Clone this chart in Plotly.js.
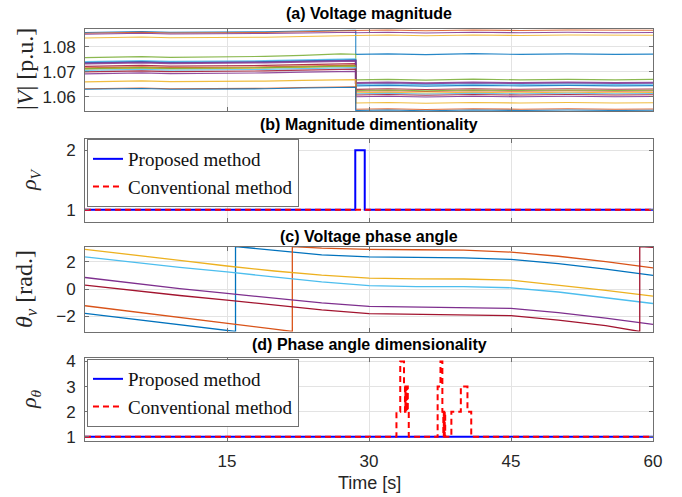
<!DOCTYPE html>
<html>
<head>
<meta charset="utf-8">
<script src="https://cdn.plot.ly/plotly-3.0.1.min.js"></script>
<style>html,body{margin:0;padding:0;background:#fff;}#chart{width:682px;height:497px;}</style>
</head>
<body>
<div id="chart"></div>
<script>
// ---------- DATA ----------
// (a) Voltage magnitude [p.u.]
const tA = [0, 3, 6, 9, 14, 19, 23, 27, 28.6, 28.6, 32, 36, 41, 46, 51, 56, 60];
const v01 = [1.0858,1.0860,1.0862,1.0859,1.0859,1.0861,1.0864,1.0868,1.0867, 1.0770,1.0772,1.0769,1.0773,1.0770,1.0772,1.0770,1.0771];
const v02 = [1.0855,1.0857,1.0859,1.0856,1.0856,1.0858,1.0861,1.0866,1.0866, 1.0866,1.0868,1.0865,1.0868,1.0866,1.0868,1.0866,1.0867];
const v03 = [1.0836,1.0837,1.0840,1.0837,1.0837,1.0839,1.0842,1.0847,1.0846, 1.0846,1.0848,1.0845,1.0848,1.0846,1.0848,1.0846,1.0847];
const v04 = [1.0851,1.0852,1.0855,1.0852,1.0852,1.0854,1.0856,1.0860,1.0859, 1.0857,1.0859,1.0856,1.0859,1.0857,1.0859,1.0857,1.0858];
const v05 = [1.0757,1.0758,1.0761,1.0758,1.0759,1.0762,1.0766,1.0772,1.0771, 1.0668,1.0670,1.0667,1.0671,1.0668,1.0670,1.0668,1.0670];
const v06 = [1.0741,1.0742,1.0745,1.0742,1.0742,1.0745,1.0748,1.0753,1.0752, 1.0650,1.0652,1.0649,1.0652,1.0650,1.0652,1.0650,1.0651];
const v07 = [1.0722,1.0723,1.0726,1.0723,1.0723,1.0726,1.0729,1.0734,1.0733, 1.0630,1.0632,1.0629,1.0632,1.0630,1.0632,1.0630,1.0631];
const v08 = [1.0737,1.0738,1.0741,1.0738,1.0738,1.0741,1.0744,1.0749,1.0748, 1.0644,1.0646,1.0643,1.0646,1.0644,1.0646,1.0644,1.0645];
const v09 = [1.0716,1.0717,1.0720,1.0717,1.0717,1.0720,1.0723,1.0728,1.0727, 1.0622,1.0624,1.0621,1.0624,1.0622,1.0624,1.0622,1.0623];
const v10 = [1.0711,1.0712,1.0715,1.0712,1.0712,1.0715,1.0718,1.0723,1.0722, 1.0616,1.0618,1.0615,1.0618,1.0616,1.0618,1.0616,1.0617];
const v11 = [1.0734,1.0735,1.0738,1.0735,1.0735,1.0738,1.0741,1.0746,1.0745, 1.0655,1.0657,1.0654,1.0657,1.0655,1.0657,1.0655,1.0656];
const v12 = [1.0713,1.0714,1.0717,1.0714,1.0714,1.0717,1.0720,1.0725,1.0724, 1.0625,1.0627,1.0624,1.0627,1.0625,1.0627,1.0625,1.0626];
const v13 = [1.0706,1.0707,1.0710,1.0707,1.0707,1.0710,1.0713,1.0718,1.0717, 1.0612,1.0614,1.0611,1.0614,1.0612,1.0614,1.0612,1.0613];
const v14 = [1.0700,1.0701,1.0704,1.0701,1.0701,1.0704,1.0707,1.0712,1.0711, 1.0607,1.0609,1.0606,1.0609,1.0607,1.0609,1.0607,1.0608];
const v15 = [1.0692,1.0693,1.0696,1.0693,1.0693,1.0696,1.0699,1.0703,1.0702, 1.0600,1.0602,1.0599,1.0602,1.0600,1.0602,1.0600,1.0601];
const v16 = [1.0660,1.0661,1.0664,1.0661,1.0661,1.0663,1.0666,1.0670,1.0669, 1.0575,1.0577,1.0574,1.0577,1.0575,1.0577,1.0575,1.0576];
const v17 = [1.0632,1.0633,1.0635,1.0632,1.0632,1.0634,1.0637,1.0641,1.0640, 1.0550,1.0552,1.0549,1.0552,1.0550,1.0552,1.0550,1.0551];
const v18 = [1.0630,1.0631,1.0633,1.0630,1.0630,1.0632,1.0635,1.0639,1.0638, 1.0545,1.0547,1.0544,1.0547,1.0545,1.0547,1.0545,1.0546];

// (b) Magnitude dimensionality
const tPropV = [0, 28.55, 29.55, 60];
const rhoPropV = [1, 2, 1, 1];
const tConvV = [0, 60];
const rhoConvV = [1, 1];

// (c) Voltage phase angle [rad.]
const tBlue = [0, 5, 10, 15, 15.9, 15.9, 20, 25, 30, 35, 40, 45, 50, 55, 60];
const thBlue = [-1.80, -2.22, -2.64, -3.06, -3.14, 3.14, 2.85, 2.52, 2.37, 2.32, 2.30, 2.19, 1.88, 1.47, 1.01];
const tOrange = [0, 5, 10, 15, 20, 21.9, 21.9, 25, 30, 35, 40, 45, 50, 55, 60];
const thOrange = [-1.24, -1.66, -2.10, -2.53, -2.96, -3.14, 3.14, 3.02, 2.93, 2.90, 2.88, 2.73, 2.42, 2.02, 1.56];
const tC = [0, 5, 10, 15, 20, 25, 30, 35, 40, 45, 50, 55, 60];
const thYellow = [2.93, 2.55, 2.12, 1.70, 1.33, 1.02, 0.80, 0.75, 0.74, 0.65, 0.30, -0.10, -0.53];
const thCyan = [2.37, 1.98, 1.60, 1.26, 0.88, 0.52, 0.25, 0.18, 0.18, 0.09, -0.22, -0.62, -1.07];
const thPurple = [0.85, 0.42, 0.03, -0.33, -0.70, -1.02, -1.28, -1.33, -1.33, -1.43, -1.75, -2.15, -2.61];
const tCrimson = [0, 5, 10, 15, 20, 25, 30, 35, 40, 45, 50, 55, 58.6, 58.6, 60];
const thCrimson = [0.28, -0.12, -0.48, -0.82, -1.20, -1.55, -1.82, -1.87, -1.88, -1.97, -2.30, -2.70, -3.14, 3.14, 3.08];

// (d) Phase angle dimensionality
const tPropT = [0, 60];
const rhoPropT = [1, 1];
const tConvT = [0, 32.9, 33.3, 33.7, 33.8, 33.85, 33.9, 33.95, 34.0, 34.05, 34.1, 34.2, 37.25, 37.55, 37.75, 37.85, 37.9, 37.95, 38.0, 38.05, 38.1, 38.7, 39.7, 40.4, 40.8, 60];
const rhoConvT = [1, 2, 4, 3, 2, 3, 2, 3, 2, 3, 2, 1, 3, 4, 2, 1, 2, 1, 2, 1, 1, 2, 3, 2, 1, 1];

// ---------- STYLE ----------
const C = ['#0072BD','#D95319','#EDB120','#7E2F8E','#77AC30','#4DBEEE','#A2142F'];
const voltSeries = [v01,v02,v03,v04,v05,v06,v07,v08,v09,v10,v11,v12,v13,v14,v15,v16,v17,v18];
const voltColors = [C[0],C[1],C[2],C[3],C[4],C[5],C[6],C[0],C[1],C[2],C[3],C[4],C[5],C[6],C[3],C[2],C[1],C[0]];

const H = 497;
const dom = (top, bot) => [1 - bot / H, 1 - top / H];

const traces = [];
voltSeries.forEach((v, i) => {
  traces.push({x: tA, y: v, xaxis: 'x', yaxis: 'y', mode: 'lines', showlegend: false,
    line: {color: voltColors[i], width: i === 10 ? 2 : 1.1}, opacity: 0.85, hoverinfo: 'skip'});
});
traces.push({x: tPropV, y: rhoPropV, xaxis: 'x2', yaxis: 'y2', mode: 'lines', name: 'Proposed method',
  line: {color: '#0000FF', width: 2, shape: 'hv'}, legend: 'legend'});
traces.push({x: tConvV, y: rhoConvV, xaxis: 'x2', yaxis: 'y2', mode: 'lines', name: 'Conventional method',
  line: {color: '#FF0000', width: 2, dash: '6px,4px'}, legend: 'legend'});

const angleSets = [
  [tBlue, thBlue, C[0]], [tOrange, thOrange, C[1]], [tC, thYellow, C[2]],
  [tC, thPurple, C[3]], [tC, thCyan, C[5]], [tCrimson, thCrimson, C[6]]
];
angleSets.forEach(s => {
  traces.push({x: s[0], y: s[1], xaxis: 'x3', yaxis: 'y3', mode: 'lines', showlegend: false,
    line: {color: s[2], width: 1.3}, hoverinfo: 'skip'});
});

traces.push({x: tPropT, y: rhoPropT, xaxis: 'x4', yaxis: 'y4', mode: 'lines', name: 'Proposed method',
  line: {color: '#0000FF', width: 2}, legend: 'legend2'});
traces.push({x: tConvT, y: rhoConvT, xaxis: 'x4', yaxis: 'y4', mode: 'lines', name: 'Conventional method',
  line: {color: '#FF0000', width: 2, dash: '6px,4px', shape: 'hv'}, legend: 'legend2'});

const tickFont = {family: 'Liberation Sans, Arial, sans-serif', size: 17, color: '#262626'};
const baseX = {
  range: [0, 60], domain: [0, 1], tickvals: [15, 30, 45, 60], showgrid: true, gridcolor: '#e3e3e3',
  showline: true, linecolor: '#707070', linewidth: 1, mirror: 'ticks', ticks: 'inside', ticklen: 4,
  tickcolor: '#707070', zeroline: false, showticklabels: false, tickfont: tickFont
};
const baseY = {
  showgrid: true, gridcolor: '#e3e3e3', showline: true, linecolor: '#707070', linewidth: 1,
  mirror: 'ticks', ticks: 'inside', ticklen: 4, tickcolor: '#707070', zeroline: false,
  tickfont: tickFont, ticklabelstandoff: 5
};

const legFont = {family: 'Liberation Serif, Times New Roman, serif', size: 19, color: '#111'};
const layout = {
  width: 682, height: 497,
  margin: {l: 85, r: 29, t: 0, b: 0},
  paper_bgcolor: '#fff', plot_bgcolor: '#fff',
  xaxis: Object.assign({}, baseX, {anchor: 'y'}),
  xaxis2: Object.assign({}, baseX, {anchor: 'y2'}),
  xaxis3: Object.assign({}, baseX, {anchor: 'y3'}),
  xaxis4: Object.assign({}, baseX, {anchor: 'y4', showticklabels: true, ticklabelstandoff: 5}),
  yaxis: Object.assign({}, baseY, {domain: dom(28.5, 111), range: [1.0543, 1.0874], tickvals: [1.06, 1.07, 1.08], ticktext: ['1.06', '1.07', '1.08'], anchor: 'x'}),
  yaxis2: Object.assign({}, baseY, {domain: dom(138.5, 221.5), range: [0.8, 2.2], tickvals: [1, 2], anchor: 'x2'}),
  yaxis3: Object.assign({}, baseY, {domain: dom(246.5, 331.5), range: [-3.1416, 3.1416], tickvals: [-2, 0, 2], anchor: 'x3'}),
  yaxis4: Object.assign({}, baseY, {domain: dom(357.5, 441), range: [0.83, 4.16], tickvals: [1, 2, 3, 4], anchor: 'x4'}),
  legend: {x: 0.0035, y: 1 - 139 / H, xanchor: 'left', yanchor: 'top', bgcolor: '#fff',
    bordercolor: '#707070', borderwidth: 1, itemwidth: 30, tracegroupgap: 0, font: legFont},
  legend2: {x: 0.0035, y: 1 - 359 / H, xanchor: 'left', yanchor: 'top', bgcolor: '#fff',
    bordercolor: '#707070', borderwidth: 1, itemwidth: 30, tracegroupgap: 0, font: legFont},
  annotations: []
};

const titleFont = {family: 'Liberation Sans, Arial, sans-serif', size: 16, color: '#000'};
[['(a) Voltage magnitude', 14], ['(b) Magnitude dimentionality', 125],
 ['(c) Voltage phase angle', 236], ['(d) Phase angle dimensionality', 344]].forEach(a => {
  layout.annotations.push({text: '<b>' + a[0] + '</b>', xref: 'paper', yref: 'paper', x: 0.5,
    y: 1 - a[1] / H, xanchor: 'center', yanchor: 'middle', showarrow: false, font: titleFont});
});
const labFont = {family: 'Liberation Serif, Times New Roman, serif', size: 24, color: '#262626'};
const labFontSmall = {family: 'Liberation Serif, Times New Roman, serif', size: 22, color: '#262626'};
[['|<i>V</i>| [p.u.]', 25, 69, labFont], ['<i>ρ</i><sub><i>V</i></sub>', 30, 180, labFontSmall],
 ['<i>θ</i><sub><i>v</i></sub> [rad.]', 26, 289, labFont], ['<i>ρ</i><sub><i>θ</i></sub>', 30, 399, labFontSmall]].forEach(a => {
  layout.annotations.push({text: a[0], xref: 'paper', yref: 'paper', x: (a[1] - 85) / 568,
    y: 1 - a[2] / H, xanchor: 'center', yanchor: 'middle', textangle: -90, showarrow: false, font: a[3]});
});
layout.annotations.push({text: 'Time [s]', xref: 'paper', yref: 'paper', x: 0.5, y: 1 - 483 / H,
  xanchor: 'center', yanchor: 'middle', showarrow: false,
  font: {family: 'Liberation Sans, Arial, sans-serif', size: 18, color: '#262626'}});

Plotly.newPlot('chart', traces, layout, {staticPlot: true, displayModeBar: false});
</script>
</body>
</html>
